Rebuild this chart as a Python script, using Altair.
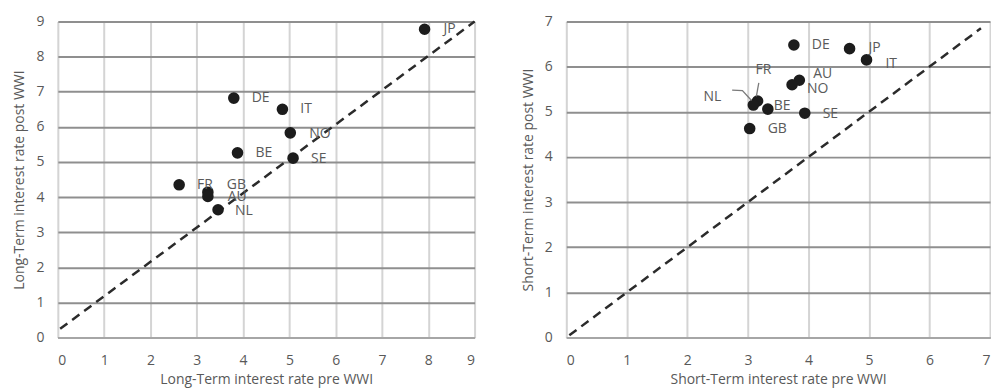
import altair as alt
import pandas as pd

# Long-term panel
lt_country = ["JP", "DE", "IT", "NO", "BE", "SE", "FR", "GB", "AU", "NL"]
lt_pre = [7.92, 3.80, 4.85, 5.02, 3.88, 5.08, 2.62, 3.24, 3.24, 3.46]
lt_post = [8.78, 6.82, 6.50, 5.83, 5.26, 5.11, 4.35, 4.14, 4.02, 3.64]

# Short-term panel
st_country = ["DE", "JP", "IT", "AU", "NO", "FR", "NL", "BE", "SE", "GB"]
st_pre = [3.76, 4.68, 4.96, 3.85, 3.73, 3.16, 3.09, 3.33, 3.94, 3.03]
st_post = [6.48, 6.40, 6.15, 5.70, 5.60, 5.24, 5.15, 5.06, 4.97, 4.63]

lt_ticks = list(range(0, 10))
st_ticks = list(range(0, 8))

# 45-degree reference lines
lt_diag_x = [0.05, 9.0]
lt_diag_y = [0.25, 9.0]
st_diag_x = [0.05, 6.85]
st_diag_y = [0.05, 6.85]

# label offsets (pixels) – style only
lt_off = {"JP": (19, 0), "DE": (18, 0), "IT": (18, 0), "NO": (19, 1), "BE": (18, 0),
          "SE": (18, 1), "FR": (18, 0), "GB": (19, -7), "AU": (20, 1), "NL": (17, 1)}
st_off = {"DE": (18, 0), "JP": (19, -1), "IT": (19, 4), "AU": (14, -6), "NO": (15, 4),
          "FR": (-2, -31), "NL": (-50, -8), "BE": (6, -3), "SE": (18, 1), "GB": (18, 0)}

FONT = "Open Sans"
TXT = "#595959"
GRID_H = "#8f8f8f"
GRID_V = "#d4d4d4"
FS = 14


def panel(countries, xs, ys, ticks, dmax, diag_x, diag_y, offs, xtitle, ytitle, w, h, leaders):
    df = pd.DataFrame({"c": countries, "x": xs, "y": ys})
    xs_ = alt.Scale(domain=[0, dmax], nice=False)
    ys_ = alt.Scale(domain=[0, dmax], nice=False)
    xax = alt.Axis(values=ticks, format="d", grid=True, gridColor=GRID_V, gridWidth=2, ticks=False,
                   domainColor="#a6a6a6", domainWidth=2, labelPadding=16, labelFontSize=FS,
                   labelColor=TXT, title=xtitle, titleFontSize=FS, titleColor=TXT,
                   titleFontWeight="normal", titlePadding=5, labelFont=FONT, titleFont=FONT)
    yax = alt.Axis(values=ticks, format="d", grid=True, gridColor=GRID_H, gridWidth=2, ticks=False,
                   domain=False, labelPadding=14, labelFontSize=FS, labelColor=TXT,
                   title=ytitle, titleFontSize=FS, titleColor=TXT, titleFontWeight="normal",
                   titlePadding=9, labelFont=FONT, titleFont=FONT)
    X = alt.X("x:Q", scale=xs_, axis=xax)
    Y = alt.Y("y:Q", scale=ys_, axis=yax)
    base = alt.Chart(df)
    diag = alt.Chart(pd.DataFrame({"x": diag_x, "y": diag_y})).mark_line(
        color="#2b2b2b", strokeWidth=2.5, strokeDash=[9, 6]).encode(x=X, y=Y)
    pts = base.mark_circle(size=135, color="#1c1c1c", opacity=1).encode(x=X, y=Y)
    layers = [diag, pts]
    for c in countries:
        dx, dy = offs[c]
        layers.append(base.transform_filter(alt.datum.c == c).mark_text(
            align="left", baseline="middle", dx=dx, dy=dy, fontSize=FS, font=FONT,
            color="#5a5a5a").encode(x=X, y=Y, text="c:N"))
    for (lx, ly) in leaders:
        layers.append(alt.Chart(pd.DataFrame({"x": lx, "y": ly})).mark_line(
            color="#7a7a7a", strokeWidth=1.3).encode(x=X, y=Y))
    return alt.layer(*layers).properties(width=w, height=h)


# leader lines for FR and NL in the short-term panel (anchored at the points)
fr_i = st_country.index("FR")
nl_i = st_country.index("NL")
st_leaders = [
    ([st_pre[fr_i] - 0.02, st_pre[fr_i] + 0.02], [st_post[fr_i] + 0.10, st_post[fr_i] + 0.40]),
    ([st_pre[nl_i] - 0.35, st_pre[nl_i] - 0.18, st_pre[nl_i] - 0.03],
     [st_post[nl_i] + 0.33, st_post[nl_i] + 0.32, st_post[nl_i] + 0.10]),
]

left = panel(lt_country, lt_pre, lt_post, lt_ticks, 9, lt_diag_x, lt_diag_y, lt_off,
             "Long-Term interest rate pre WWI", "Long-Term interest rate post WWI",
             418, 317, [])
right = panel(st_country, st_pre, st_post, st_ticks, 7, st_diag_x, st_diag_y, st_off,
              "Short-Term interest rate pre WWI", "Short-Term interest rate post WWI",
              425, 317, st_leaders)

chart = alt.hconcat(left, right, spacing=40).properties(
    padding={"left": 4, "top": 5, "right": 0, "bottom": 0}
).configure_view(stroke="#d4d4d4", strokeWidth=2).configure(background="white")

chart.save("out.html", embed_options={"renderer": "svg", "actions": False})
